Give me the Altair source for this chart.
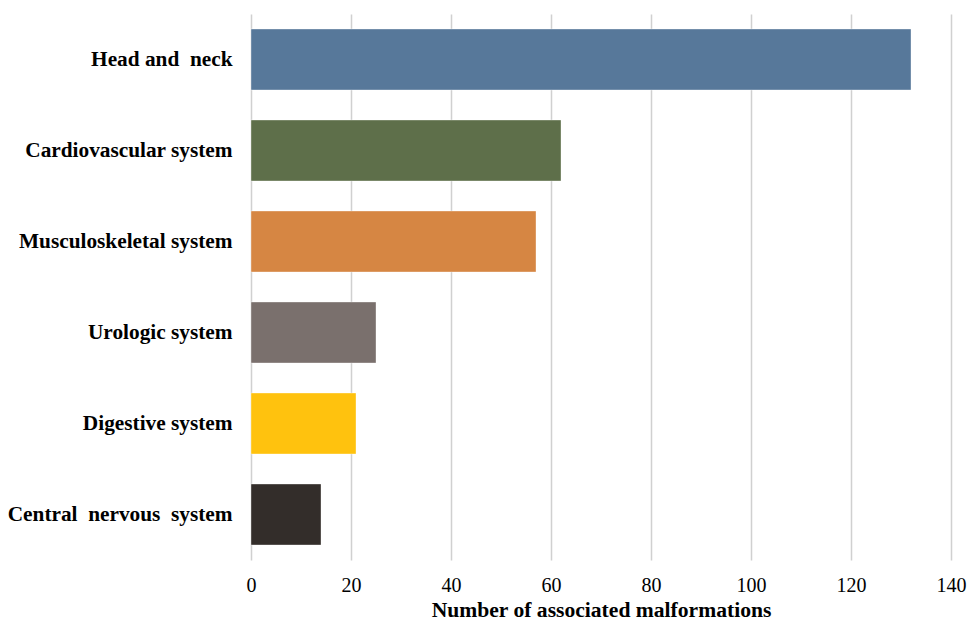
import altair as alt
import pandas as pd

categories = [
    "Head and\u00a0 neck",
    "Cardiovascular system",
    "Musculoskeletal system",
    "Urologic system",
    "Digestive system",
    "Central\u00a0 nervous\u00a0 system",
]
values = [132, 62, 57, 25, 21, 14]
colors = ["#57789A", "#5E6F4A", "#D68643", "#7A706D", "#FFC20E", "#332D2A"]

df = pd.DataFrame({"category": categories, "value": values})

font = "Liberation Serif"

chart = (
    alt.Chart(df)
    .mark_bar(stroke="white", strokeWidth=0.6, strokeOpacity=0.6)
    .encode(
        x=alt.X(
            "value:Q",
            scale=alt.Scale(domain=[0, 140], nice=False),
            axis=alt.Axis(
                values=[0, 20, 40, 60, 80, 100, 120, 140],
                title="Number of associated malformations",
                grid=True,
                gridColor="#d0d0d0",
                gridWidth=1.5,
                domain=False,
                ticks=False,
                labelFlush=False,
                labelFont=font,
                labelFontSize=20,
                labelColor="#000000",
                labelPadding=15,
                titleFont=font,
                titleFontSize=21.6,
                titleFontWeight="bold",
                titleColor="#000000",
                titlePadding=4,
            ),
        ),
        y=alt.Y(
            "category:N",
            sort=categories,
            scale=alt.Scale(paddingInner=0.33, paddingOuter=0.165),
            axis=alt.Axis(
                title=None,
                domain=False,
                ticks=False,
                grid=False,
                labelFont=font,
                labelFontSize=21.3,
                labelFontWeight="bold",
                labelColor="#000000",
                labelPadding=19,
                labelLimit=400,
            ),
        ),
        color=alt.Color(
            "category:N",
            scale=alt.Scale(domain=categories, range=colors),
            legend=None,
        ),
    )
    .properties(
        width=700,
        height=546,
        autosize=alt.AutoSizeParams(type="none"),
        padding={"left": 251, "top": 14, "right": 19, "bottom": 64},
    )
    .configure(background="white", view=alt.ViewConfig(stroke=None))
)

chart.save("out.html", embed_options={"renderer": "svg", "actions": False})
